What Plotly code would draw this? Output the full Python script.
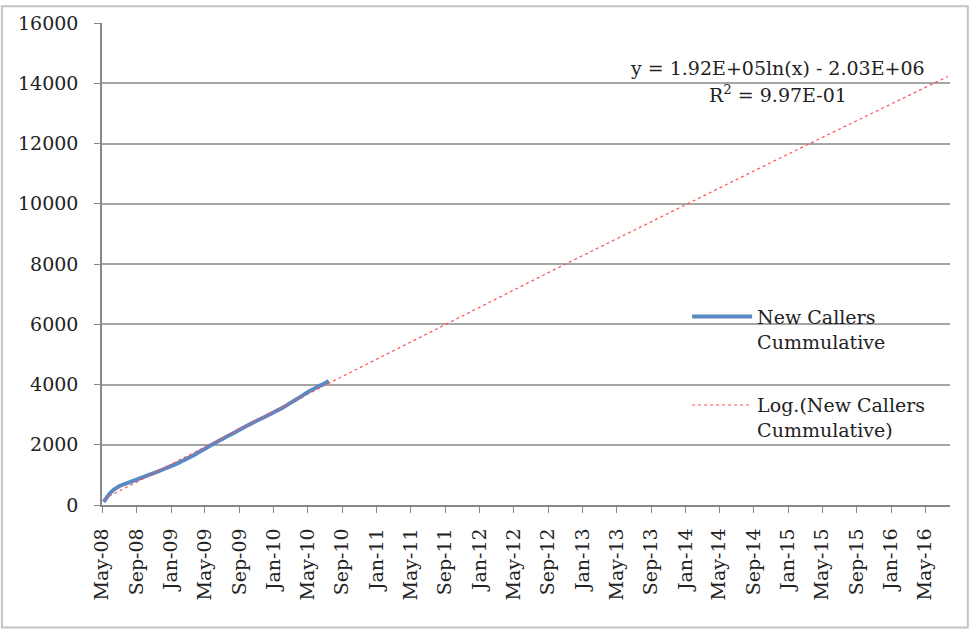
import numpy as np
import pandas as pd
import plotly.graph_objects as go

# Cumulative count of new callers
dates = [
    "2008-05-07", "2008-06-01", "2008-07-01",
    "2008-08-01", "2008-09-01", "2008-10-01", "2008-11-01", "2008-12-01",
    "2009-01-01", "2009-02-01", "2009-03-01", "2009-04-01", "2009-05-01",
    "2009-06-01", "2009-07-01", "2009-08-01", "2009-09-01", "2009-10-01",
    "2009-11-01", "2009-12-01", "2010-01-01", "2010-02-01", "2010-03-01",
    "2010-04-01", "2010-05-01", "2010-06-01", "2010-07-01", "2010-07-15",
]
callers = [
    100, 420, 625,
    735, 845, 950, 1060, 1170,
    1290, 1415, 1550, 1705, 1870,
    2035, 2185, 2340, 2495, 2645,
    2795, 2930, 3080, 3230, 3390,
    3565, 3740, 3900, 4040, 4115,
]

axis_start = "2008-05-01"
axis_end = "2016-07-28"
forecast_end = "2016-07-25"
y_ticks = [0, 2000, 4000, 6000, 8000, 10000, 12000, 14000, 16000]

series_name = "New Callers<br>Cummulative"
trend_name = "Log.(New Callers<br>Cummulative)"

# Logarithmic trendline fitted on spreadsheet serial day numbers
epoch = pd.Timestamp("1899-12-30")
d = pd.to_datetime(dates)
serial = np.array((d - epoch).days, dtype=float)
yv = np.array(callers, dtype=float)
a, b = np.polyfit(np.log(serial), yv, 1)
pred = a * np.log(serial) + b
r2 = 1 - np.sum((yv - pred) ** 2) / np.sum((yv - yv.mean()) ** 2)

trend_dates = pd.date_range(d[0], pd.Timestamp(forecast_end), freq="7D")
trend_serial = np.array((trend_dates - epoch).days, dtype=float)
trend_y = a * np.log(trend_serial) + b

sign = "-" if b < 0 else "+"
eq_text = f"y = {a:.2E}ln(x) {sign} {abs(b):.2E}"
r2_text = f"R<sup>2</sup> = {r2:.2E}"

font_family = "DejaVu Serif"
fs = 19
ink = "#222222"
grid = "#a6a6a6"

fig = go.Figure()
fig.add_trace(go.Scatter(
    x=d, y=callers, mode="lines", name=series_name, legendgroup="data",
    line=dict(color="#5a8ac6", width=4, shape="spline", smoothing=0.6),
))
fig.add_trace(go.Scatter(
    x=trend_dates, y=trend_y, mode="lines", name=trend_name, legendgroup="trend",
    line=dict(color="rgb(255,80,80)", width=1.2, dash="dot"),
))

# white panel behind the legend hides the gridlines there
fig.add_shape(type="rect", xref="paper", yref="paper",
              x0=0.646, x1=1.0, y0=0.08, y1=0.48,
              fillcolor="white", line_width=0, layer="between")
# outer frame
fig.add_shape(type="rect", xref="paper", yref="paper",
              x0=-0.118, x1=1.021, y0=-0.254, y1=1.035,
              line=dict(color="#c4c4c4", width=2), fillcolor="rgba(0,0,0,0)",
              layer="above")

fig.add_annotation(x=0.797, y=0.906, xref="paper", yref="paper",
                   xanchor="center", yanchor="middle",
                   text=eq_text, showarrow=False,
                   font=dict(family=font_family, size=fs, color=ink))
fig.add_annotation(x=0.797, y=0.852, xref="paper", yref="paper",
                   xanchor="center", yanchor="middle",
                   text=r2_text, showarrow=False,
                   font=dict(family=font_family, size=fs, color=ink))

fig.update_layout(
    width=978, height=633,
    margin=dict(l=102, r=28, t=18, b=128),
    paper_bgcolor="white", plot_bgcolor="white",
    font=dict(family=font_family, size=fs, color=ink),
    showlegend=True,
    legend=dict(
        x=0.69, y=0.43, xanchor="left", yanchor="top", valign="top",
        bgcolor="rgba(0,0,0,0)", borderwidth=0,
        font=dict(family=font_family, size=fs, color=ink),
        itemwidth=60, tracegroupgap=36,
    ),
    xaxis=dict(
        type="date", range=[axis_start, axis_end],
        tick0=axis_start, dtick="M4", tickformat="%b-%y", tickangle=-90,
        ticks="outside", ticklen=6, tickcolor="#888888",
        showline=True, linecolor="#888888", linewidth=1.5,
        showgrid=False, zeroline=False,
        ticklabelstandoff=8,
        tickfont=dict(family=font_family, size=fs, color=ink),
    ),
    yaxis=dict(
        range=[0, 16000], tickvals=y_ticks, tickformat="d",
        ticks="outside", ticklen=6, tickcolor="#888888",
        showline=True, linecolor="#888888", linewidth=1.5,
        showgrid=True, gridcolor=grid, gridwidth=1.5,
        zeroline=False, ticklabelstandoff=12,
        tickfont=dict(family=font_family, size=fs, color=ink),
    ),
)

fig.write_html("out.html")
